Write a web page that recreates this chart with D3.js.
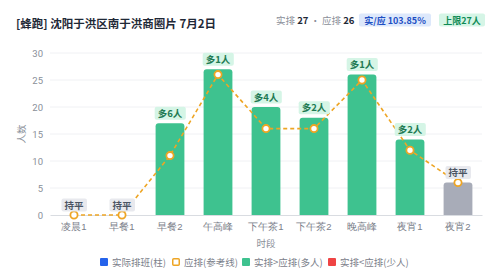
<!DOCTYPE html>
<html>
<head>
<meta charset="utf-8">
<script src="https://cdn.jsdelivr.net/npm/d3@7"></script>
<style>
  body { margin: 0; background: #fff; font-family: "Noto Sans CJK SC", "Noto Sans", sans-serif; }
</style>
</head>
<body>
<div class="canvas"></div>
<script>
// data
const slots = ['凌晨1', '早餐1', '早餐2', '午高峰', '下午茶1', '下午茶2', '晚高峰', '夜宵1', '夜宵2'];
const actual = [0, 0, 17, 27, 20, 18, 26, 14, 6];
const expected = [0, 0, 11, 26, 16, 16, 25, 12, 6];
const diffLabels = ['持平', '持平', '多6人', '多1人', '多4人', '多2人', '多1人', '多2人', '持平'];
const yTicks = [0, 5, 10, 15, 20, 25, 30];
const legendItems = ['实际排班(柱)', '应排(参考线)', '实排>应排(多人)', '实排<应排(少人)'];

const size = { width: 500, height: 278 };
const plot = { left: 50, right: 482, top: 53, bottom: 215 };
const colours = { more: '#3ec28f', equal: '#a8acb8', less: '#ef4444', line: '#eea524', blue: '#2563eb' };

const svg = d3.select('.canvas')
  .append('svg')
  .attr('width', size.width)
  .attr('height', size.height);

// header
svg.append('text')
  .attr('x', 16).attr('y', 28)
  .attr('font-size', 11.5).attr('font-weight', 'bold')
  .attr('fill', '#1f2937')
  .text('[蜂跑] 沈阳于洪区南于洪商圈片 7月2日');

const head = svg.append('text')
  .attr('x', 276).attr('y', 24)
  .attr('font-size', 9.5).attr('fill', '#8a8f99');
head.append('tspan').text('实排 ');
head.append('tspan').attr('font-weight', 'bold').attr('fill', '#1f2937').text('27');
head.append('tspan').text(' · 应排 ');
head.append('tspan').attr('font-weight', 'bold').attr('fill', '#1f2937').text('26');

const badges = [
  { x: 359, w: 72, text: '实/应 103.85%', bg: '#dde8fb', fg: '#1e4fc4' },
  { x: 439, w: 46, text: '上限27人', bg: '#d5f5e6', fg: '#0f8a55' }
];
badges.forEach(b => {
  svg.append('rect').attr('x', b.x).attr('y', 13.5).attr('width', b.w).attr('height', 13)
    .attr('rx', 2).attr('fill', b.bg);
  svg.append('text').attr('x', b.x + b.w / 2).attr('y', 23.5)
    .attr('text-anchor', 'middle').attr('font-size', 9).attr('font-weight', 'bold')
    .attr('fill', b.fg).text(b.text);
});

// scales
const x = d3.scaleBand().domain(slots).range([plot.left, plot.right]).paddingInner(0.4).paddingOuter(0.2);
const y = d3.scaleLinear().domain([0, 30]).range([plot.bottom, plot.top]);

// grid
svg.append('g')
  .selectAll('line')
  .data(yTicks.slice(1))
  .enter().append('line')
  .attr('x1', plot.left).attr('x2', plot.right)
  .attr('y1', d => y(d)).attr('y2', d => y(d))
  .attr('stroke', '#f0f1f4').attr('stroke-width', 1);

// y axis
const yAxis = d3.axisLeft(y).tickValues(yTicks).tickSize(0).tickPadding(0);
const yG = svg.append('g').attr('transform', `translate(${plot.left - 7},0)`).call(yAxis);
yG.select('.domain').remove();
yG.selectAll('text').attr('font-size', 9.5).attr('fill', '#8a8f99').attr('font-family', 'Roboto, "Noto Sans", sans-serif');

svg.append('text')
  .attr('transform', `translate(25,${(plot.top + plot.bottom) / 2}) rotate(-90)`)
  .attr('text-anchor', 'middle').attr('font-size', 9.5).attr('fill', '#8a8f99')
  .text('人数');

// bars
const rounded = (x0, y0, w, h, r) => {
  r = Math.min(r, h);
  return `M${x0},${y0 + h}V${y0 + r}Q${x0},${y0} ${x0 + r},${y0}H${x0 + w - r}Q${x0 + w},${y0} ${x0 + w},${y0 + r}V${y0 + h}Z`;
};
const data = slots.map((s, i) => ({ slot: s, actual: actual[i], expected: expected[i], label: diffLabels[i] }));
const barColour = d => d.actual > d.expected ? colours.more : d.actual < d.expected ? colours.less : colours.equal;

svg.append('g')
  .selectAll('path')
  .data(data.filter(d => d.actual > 0))
  .enter().append('path')
  .attr('d', d => rounded(x(d.slot), y(d.actual), x.bandwidth(), plot.bottom - y(d.actual), 3))
  .attr('fill', barColour);

// x axis
const xAxis = d3.axisBottom(x).tickSize(0).tickPadding(8);
const xG = svg.append('g').attr('transform', `translate(0,${plot.bottom})`).call(xAxis);
xG.select('.domain').attr('stroke', '#d9dce1');
xG.selectAll('text').attr('font-size', 9.5).attr('fill', '#7b808a');

svg.append('text')
  .attr('x', (plot.left + plot.right) / 2).attr('y', 247)
  .attr('text-anchor', 'middle').attr('font-size', 9.5).attr('fill', '#8a8f99')
  .text('时段');

// reference line
const cx = d => x(d.slot) + x.bandwidth() / 2;
const line = d3.line().x(cx).y(d => y(d.expected));
svg.append('path')
  .datum(data)
  .attr('d', line)
  .attr('fill', 'none')
  .attr('stroke', colours.line)
  .attr('stroke-width', 1.6)
  .attr('stroke-dasharray', '4,3');

svg.append('g')
  .selectAll('circle')
  .data(data)
  .enter().append('circle')
  .attr('cx', cx).attr('cy', d => y(d.expected))
  .attr('r', 3.6)
  .attr('fill', '#fff')
  .attr('stroke', colours.line)
  .attr('stroke-width', 1.8);

// diff labels
const tags = svg.append('g')
  .selectAll('g')
  .data(data)
  .enter().append('g')
  .attr('transform', d => `translate(${cx(d)},${y(Math.max(d.actual, d.expected)) - 10})`);

const tagBg = tags.append('rect')
  .attr('rx', 2)
  .attr('fill', d => d.actual > d.expected ? '#d5f5e6' : d.actual < d.expected ? '#fde2e2' : '#e8e9ee');

tags.append('text')
  .attr('text-anchor', 'middle')
  .attr('y', 3.5)
  .attr('font-size', 9.5)
  .attr('font-weight', 'bold')
  .attr('fill', d => d.actual > d.expected ? '#1f7a53' : d.actual < d.expected ? '#b91c1c' : '#4b5563')
  .text(d => d.label)
  .each(function () {
    const bb = this.getBBox();
    d3.select(this.parentNode).select('rect')
      .attr('x', bb.x - 3).attr('y', -6.5)
      .attr('width', bb.width + 6).attr('height', 13);
  });

// legend
const legendX = [100, 172, 242, 328];
const legend = svg.append('g')
  .selectAll('g')
  .data(legendItems)
  .enter().append('g')
  .attr('transform', (d, i) => `translate(${legendX[i]},262)`);

legend.append('rect')
  .attr('x', (d, i) => i === 1 ? 0.75 : 0)
  .attr('y', (d, i) => i === 1 ? -3.25 : -4)
  .attr('width', (d, i) => i === 1 ? 6.5 : 8)
  .attr('height', (d, i) => i === 1 ? 6.5 : 8)
  .attr('rx', 1)
  .attr('fill', (d, i) => [colours.blue, '#fff', colours.more, colours.less][i])
  .attr('stroke', (d, i) => i === 1 ? colours.line : 'none')
  .attr('stroke-width', 1.5);

legend.append('text')
  .attr('x', 12).attr('y', 3.5)
  .attr('font-size', 9.5).attr('fill', '#7b808a')
  .text(d => d);
</script>
</body>
</html>
